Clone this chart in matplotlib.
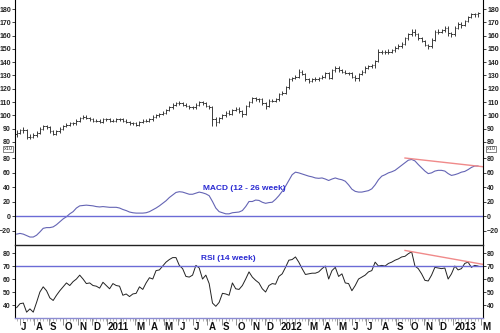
import numpy as np
import matplotlib
matplotlib.use("Agg")
from matplotlib import pyplot as plt
import matplotlib.transforms as mtransforms
import datetime as dt

plt.rcParams['font.family'] = ['Liberation Sans', 'DejaVu Sans']

# weekly bars, first bar week ending 2010-06-25
start_date = dt.date(2010, 6, 25)

opens = [86, 87, 89, 89, 84, 84, 85, 87, 90, 92,
         91, 88, 86, 88, 90, 92, 93, 94, 94, 96,
         98, 99, 98, 97, 96, 96, 95, 97, 97, 96,
         96, 97, 97, 96, 95, 94, 94, 93, 95, 96,
         96, 97, 99, 100, 101, 102, 104, 106, 108, 109,
         109, 108, 107, 106, 106, 108, 110, 109, 107, 106,
         97, 95, 98, 100, 102, 101, 104, 105, 103, 101,
         107, 110, 113, 112, 112, 109.5, 107, 111, 111, 112,
         116, 117, 121, 127, 128, 129, 133, 131, 127, 126,
         127, 127, 128, 129, 132, 128, 134, 136, 134, 133,
         132, 132, 129, 128, 131, 133, 136, 137, 138, 141,
         148, 148, 148, 148, 149, 151, 152, 154, 158, 161,
         163, 161, 158, 156, 153, 152, 157, 163, 163, 164,
         166, 162, 161, 166, 169, 168, 171, 174, 176, 176]

closes = [87, 89, 89, 84, 84, 85, 87, 90, 92, 91,
          88, 86, 88, 90, 92, 93, 94, 94, 96, 98,
          99, 98, 97, 96, 96, 95, 97, 97, 96, 96,
          97, 97, 96, 95, 94, 94, 93, 95, 96, 96,
          97, 99, 100, 101, 102, 104, 106, 108, 109, 109,
          108, 107, 106, 106, 108, 110, 109, 107, 106, 97,
          95, 98, 100, 102, 101, 104, 105, 103, 101, 107,
          110, 113, 112, 112, 109.5, 107, 111, 111, 112, 116,
          117, 121, 127, 128, 129, 133, 131, 127, 126, 127,
          127, 128, 129, 132, 128, 134, 136, 134, 133, 132,
          132, 129, 128, 131, 133, 136, 137, 138, 141, 148,
          148, 148, 148, 149, 151, 152, 154, 158, 161, 163,
          161, 158, 156, 153, 152, 157, 163, 163, 164, 166,
          162, 161, 166, 169, 168, 171, 174, 176, 176, 177]

highs = [89, 90, 91, 90, 86, 87, 88, 91, 93, 93,
         92, 89, 89, 91, 93, 94, 95, 95, 97, 99,
         100, 100, 99, 98, 97, 97, 98, 98, 98, 97,
         98, 98, 98, 97, 96, 95, 95, 96, 97, 97,
         98, 100, 101, 102, 103, 105, 107, 109, 110, 110.5,
         110, 109, 108, 107, 109, 111, 111, 110, 108, 107,
         99, 99, 101, 103, 104, 105, 106, 106, 104, 108,
         111, 114, 114, 113, 113, 110, 112, 112, 113, 117,
         118, 122, 128, 129, 130, 135, 134, 132, 128, 128,
         129, 129, 130, 133, 133, 135, 137, 137, 135, 134,
         133, 133, 130, 132, 134, 137, 138, 139, 142, 150,
         149, 149, 150, 150, 152, 154, 155, 159, 162, 165,
         165, 162, 159, 157, 154, 158, 164, 165, 165, 167,
         167, 163, 167, 170, 170, 172, 175, 177, 177, 178]

lows = [84, 86, 87, 82, 82, 83, 84, 86, 89, 90,
        87, 85, 85, 87, 89, 91, 92, 93, 93, 95,
        97, 97, 96, 95, 95, 94, 94, 96, 95, 95,
        95, 96, 95, 94, 93, 93, 92, 92, 94, 95,
        95, 96, 98, 99, 100, 101, 103, 105, 107, 108,
        107, 106, 105, 105, 105, 107, 108, 106, 105, 92,
        92, 94, 97, 99, 100, 100, 103, 102, 99, 100,
        106, 109, 111, 110, 108, 105, 106, 110, 110, 111,
        115, 116, 120, 126, 127, 128, 130, 126, 124, 125,
        126, 126, 127, 128, 127, 127, 133, 133, 132, 131,
        130, 128, 126, 126, 130, 132, 135, 136, 136, 140,
        146, 146, 146, 147, 148, 150, 151, 153, 157, 160,
        160, 157, 155, 152, 150, 151, 156, 161, 162, 163,
        160, 159, 160, 165, 166, 167, 170, 173, 174, 174]

macd = [-25, -24, -25, -27, -29, -29, -26.5, -22, -17, -16,
        -16, -15, -12, -8, -4, -1, 3, 6, 11, 14,
        14.5, 15, 14.5, 14, 13, 12.5, 13, 12.5, 12, 12,
        12, 11, 9, 7.5, 5.5, 4.5, 4, 4, 4, 4.5,
        6, 8.5, 11, 14, 17.5, 21, 25.5, 29, 32.5, 33.5,
        33, 31.5, 30, 30, 31.5, 33, 32, 30.5, 28, 20,
        11, 6, 4.5, 3, 3, 4.5, 5, 5.5, 7.5, 13,
        20, 20, 22, 21.5, 19, 17.5, 18.5, 19, 23, 28,
        34, 41, 49, 57, 60.5, 59.5, 58, 56.5, 55, 54,
        52.5, 52, 52.5, 51, 49, 51, 52.5, 51, 50, 48,
        43, 37, 34, 33, 33, 34, 35, 37.5, 43, 50,
        55, 57, 59.5, 61, 63, 66.5, 70, 73.5, 77, 78,
        76, 71, 66.5, 62, 58.5, 59.5, 62, 63, 63, 62,
        58.5, 56, 57, 58.5, 60.5, 61.5, 64, 67, 69, 69]

rsi = [38, 41, 41.5, 34.5, 37, 34.5, 42, 50, 54, 51,
       45.5, 43.5, 47.5, 51, 54, 57, 55, 58, 60, 63,
       60, 56.5, 57, 55, 54.5, 53, 57.5, 55, 52.5, 56.5,
       55, 54.5, 47.5, 48.5, 46.5, 48.5, 49, 54, 52, 57,
       61, 60, 66.5, 67, 70, 73, 75, 76.5, 76.5, 70.5,
       68, 62, 61.5, 63, 70.5, 68.5, 60, 63, 56.5, 41.5,
       39, 42, 49, 48.5, 47.5, 57, 52.5, 52, 55, 60,
       65.5, 61.5, 59, 57, 52.5, 50, 55, 56.5, 56, 62,
       64, 69, 74.5, 75, 77, 73, 68, 63.5, 64, 64.5,
       64.5, 65.5, 68, 70, 60, 66.5, 69, 62, 64, 57,
       56.5, 51, 55, 60, 61.5, 63, 65.5, 66.5, 73, 70,
       70.5, 70, 72, 73, 74.5, 75.5, 77, 77.5, 79.5, 81,
       70, 68, 64, 59, 58.5, 63, 69, 68.5, 68, 68.5,
       60, 64, 70, 67, 68, 72, 73, 69, 70.5, 70]

# divergence trend lines (week index, value)
macd_trend_x = [117, 140.5]
macd_trend_y = [80, 68]
rsi_trend_x = [117, 140.5]
rsi_trend_y = [82, 71.3]

weeks = np.arange(len(closes))

fig = plt.figure(figsize=(5, 3.33), dpi=100)
L, W = 0.03, 0.936
ax1 = fig.add_axes([L, 1 - 147 / 333, W, 147 / 333])
ax2 = fig.add_axes([L, 1 - 245 / 333, W, 98 / 333], sharex=ax1)
ax3 = fig.add_axes([L, 1 - 318 / 333, W, 73 / 333], sharex=ax1)

barc = '#3a3a3a'
ax1.vlines(weeks, lows, highs, color=barc, lw=0.7)
ax1.hlines(opens, weeks - 0.45, weeks, color=barc, lw=0.7)
ax1.hlines(closes, weeks, weeks + 0.45, color=barc, lw=0.7)
ax1.set_ylim(76.2, 186.8)
ax1.set_yticks(np.arange(80, 181, 10))

ax2.plot(weeks, macd, color='#6464b4', lw=0.8)
ax2.axhline(0, color='#6b6bd6', lw=1)
ax2.plot(macd_trend_x, macd_trend_y, color='#f08a8a', lw=1)
ax2.set_ylim(-40, 95.2)
ax2.set_yticks(np.arange(-20, 81, 20))
ax2.text(0.49, 0.58, 'MACD (12 - 26 week)', transform=ax2.transAxes,
         ha='center', va='center', fontsize=6, fontweight='bold', color='#2a2ad2')

ax3.plot(weeks, rsi, color='#222222', lw=0.7)
ax3.axhline(70, color='#6b6bd6', lw=1)
ax3.plot(rsi_trend_x, rsi_trend_y, color='#f08a8a', lw=1)
ax3.set_ylim(30, 86.2)
ax3.set_yticks(np.arange(40, 81, 10))
ax3.text(0.455, 0.82, 'RSI (14 week)', transform=ax3.transAxes,
         ha='center', va='center', fontsize=6, fontweight='bold', color='#2a2ad2')

ax1.set_xlim(-0.5, 140.5)

for ax in (ax1, ax2, ax3):
    ax.tick_params(axis='y', left=True, right=True, labelleft=True, labelright=True,
                   length=2, width=0.6, pad=1, labelsize=5, colors='#222222')
    for lab in ax.get_yticklabels():
        lab.set_fontweight('bold')
    ax.spines['top'].set_visible(False)
    ax.spines['bottom'].set_visible(False)
    ax.spines['left'].set_linewidth(0.8)
    ax.spines['right'].set_linewidth(0.8)
    ax.tick_params(axis='x', bottom=False, labelbottom=False)

# black separator between MACD and RSI panels
ax3.spines['top'].set_visible(True)
ax3.spines['top'].set_color('#222222')
ax3.spines['top'].set_linewidth(1)
ax3.spines['bottom'].set_visible(True)
ax3.spines['bottom'].set_color('#8c8cd2')
ax3.spines['bottom'].set_linewidth(1)

# date axis: weekly minor ticks, month major ticks
months = []
y, m = 2010, 7
while (y, m) <= (2013, 3):
    months.append(dt.date(y, m, 1))
    m += 1
    if m > 12:
        m, y = 1, y + 1
month_x = [(d - start_date).days / 7 for d in months]
letters = 'JFMAMJJASOND'
ax3.set_xticks(month_x)
ax3.set_xticks(weeks, minor=True)
ax3.tick_params(axis='x', which='major', bottom=True, length=5, width=0.6,
                color='#777777', labelbottom=False)
ax3.tick_params(axis='x', which='minor', bottom=True, length=2.5, width=0.5,
                color='#999999')
trans = mtransforms.blended_transform_factory(ax3.transData, ax3.transAxes)
for d, x in zip(months, month_x):
    if d.month == 2:
        continue
    lab = str(d.year) if d.month == 1 else letters[d.month - 1]
    ax3.text(x + 0.35, -0.05, lab, transform=trans, ha='left', va='top',
             fontsize=7, fontweight='bold', color='#111111', clip_on=False)

for xf in (8 / 500, 491 / 500):
    fig.text(xf, 1 - 149 / 333, 'x10', ha='center', va='center', fontsize=4,
             color='#333333',
             bbox=dict(boxstyle='square,pad=0.15', fc='white', ec='#555555', lw=0.5))

fig.savefig('out.png', dpi=100)
